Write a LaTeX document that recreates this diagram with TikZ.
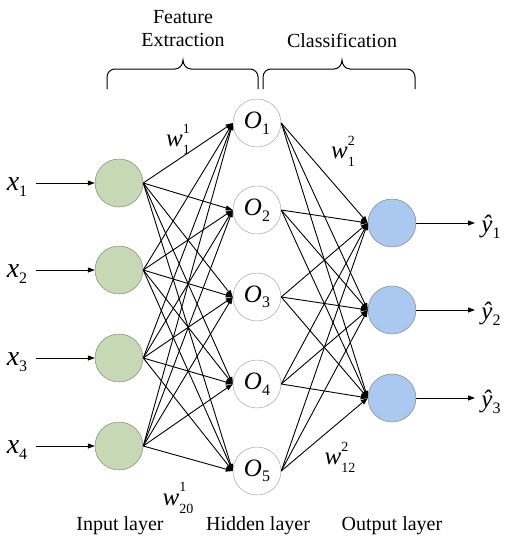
\documentclass[tikz,border=0pt]{standalone}
\usepackage{fontspec}
\setmainfont{Liberation Serif}
\usetikzlibrary{arrows.meta}

\definecolor{inputgreen}{RGB}{198,216,180}
\definecolor{outputblue}{RGB}{170,200,240}
\definecolor{ringgray}{RGB}{130,135,125}

\newcommand{\lowidx}[1]{\raisebox{-0.22em}{\fontsize{16}{16}\selectfont #1}}
\newcommand{\wlabel}[2]{\textit{w}\rlap{\raisebox{0.55em}{\fontsize{14}{14}\selectfont #2}}\raisebox{-0.3em}{\fontsize{14}{14}\selectfont #1}}

\begin{document}
\begin{tikzpicture}[x=1pt, y=-1pt,
  neuron/.style={circle, minimum size=48pt, inner sep=0pt, line width=0.5pt},
  link/.style={line width=0.9pt, -{Triangle[length=7pt,width=5pt]}},
  caption/.style={font=\fontsize{20}{23}\selectfont, align=center},
  symb/.style={font=\fontsize{25}{27}\selectfont}]
\useasboundingbox (0,0) rectangle (507,550);
% input layer
\foreach \i/\y in {1/183, 2/270, 3/358, 4/446} {
  \node[neuron, draw=ringgray, fill=inputgreen] (in\i) at (119,\y) {};
  \node[symb, font=\fontsize{28}{30}\selectfont] (x\i) at (17,\y+4) {\textit{x}\lowidx{\i}};
  \draw[link] (36,\y) -- (in\i.west);
}
% hidden layer
\foreach \j/\y in {1/123, 2/210, 3/297, 4/384, 5/471}
  \node[neuron, draw=black!35, fill=white, symb] (hid\j) at (257,\y) {\textit{O}\lowidx{\j}};
% output layer
\foreach \k/\y in {1/223, 2/310, 3/398} {
  \node[neuron, draw=ringgray, fill=outputblue] (out\k) at (392,\y) {};
  \node[symb] (yhat\k) at (491,\y+4) {\textit{ŷ}\lowidx{\k}};
  \draw[link] (out\k.east) -- (475,\y);
}
% connections
\foreach \i in {1,...,4}
  \foreach \j in {1,...,5}
    \draw[link] (in\i.east) -- (hid\j.west);
\foreach \j in {1,...,5}
  \foreach \k in {1,...,3}
    \draw[link] (hid\j.east) -- (out\k.west);
% weights
\node[symb] (wa) at (178,139) {\wlabel{1}{1}};
\node[symb] (wb) at (178,498) {\wlabel{20}{1}};
\node[symb] (wc) at (343,151) {\wlabel{1}{2}};
\node[symb] (wd) at (340,457) {\wlabel{12}{2}};
% braces
\draw[line width=1pt] (107,89) -- (107,77) to[out=90,in=180] (115,69) -- (175,69)
  to[out=0,in=-90] (183,60) to[out=-90,in=180] (191,69) -- (250,69)
  to[out=0,in=90] (258,77) -- (258,89);
\draw[line width=1pt] (263,89) -- (263,77) to[out=90,in=180] (271,69) -- (334,69)
  to[out=0,in=-90] (342,60) to[out=-90,in=180] (350,69) -- (407,69)
  to[out=0,in=90] (415,77) -- (415,89);
\node[caption] (fe) at (183,29) {Feature\\Extraction};
\node[caption] (cl) at (342,41) {Classification};
% layer names
\node[caption] (li) at (120,526) {Input layer};
\node[caption] (lh) at (258,526) {Hidden layer};
\node[caption] (lo) at (392,526) {Output layer};
\end{tikzpicture}
\end{document}
